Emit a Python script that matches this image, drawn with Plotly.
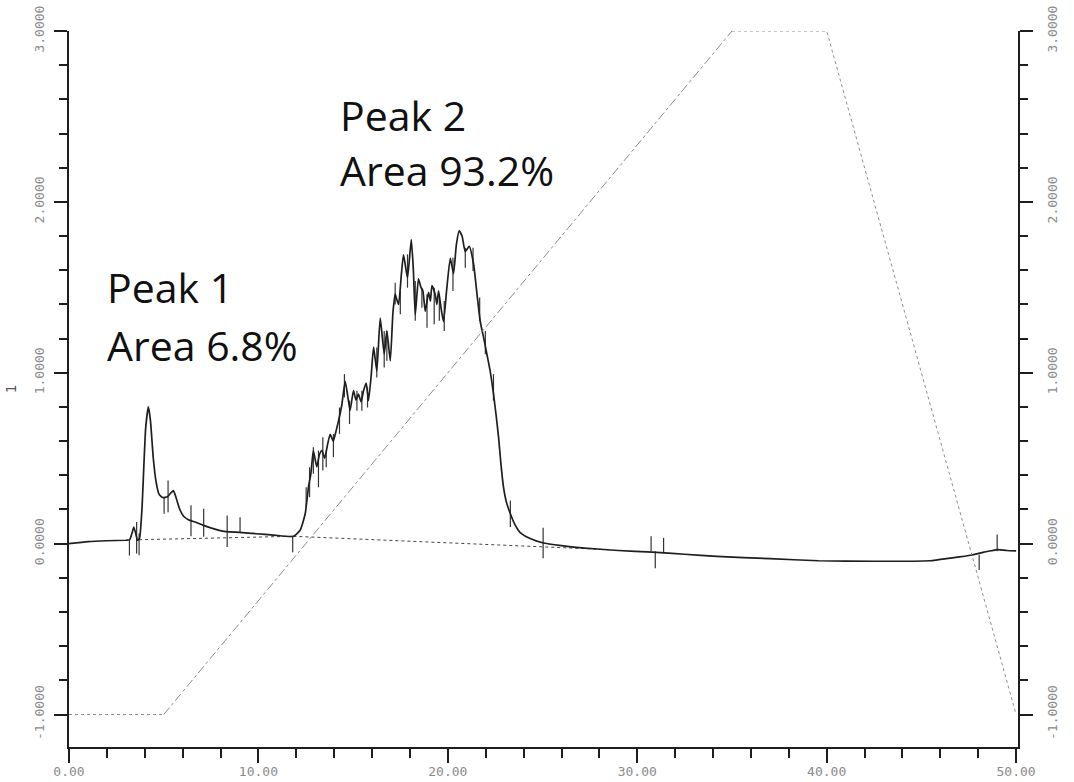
import plotly.graph_objects as go

# ---- chromatogram trace (time in min, detector response) ----
time_min = [0.0, 1.0, 2.0, 3.0, 3.2, 3.35, 3.42, 3.52, 3.62, 3.72, 3.85, 3.95, 4.05, 4.19, 4.3,
            4.45, 4.6, 4.75, 4.95, 5.2, 5.4, 5.51, 5.65, 5.85, 6.05, 6.3, 6.7, 7.1, 7.7, 8.3,
            9.0, 9.9, 10.8, 11.85, 12.2, 12.47, 12.64, 12.77, 12.9, 13.08, 13.22, 13.35, 13.5,
            13.65, 13.79, 13.95, 14.1, 14.23, 14.4, 14.58, 14.72, 14.84, 15.02, 15.15, 15.28,
            15.42, 15.55, 15.69, 15.81, 15.95, 16.08, 16.25, 16.43, 16.64, 16.78, 16.96, 17.1,
            17.22, 17.3, 17.4, 17.55, 17.66, 17.87, 18.07, 18.18, 18.28, 18.45, 18.58, 18.68,
            18.81, 18.98, 19.08, 19.16, 19.33, 19.42, 19.51, 19.64, 19.77, 19.95, 20.13, 20.3,
            20.45, 20.6, 20.75, 20.92, 21.13, 21.36, 21.55, 21.71, 21.9, 22.06, 22.25, 22.41,
            22.55, 22.68, 22.8, 22.94, 23.1, 23.3, 23.55, 23.82, 24.35, 25.0, 26.0, 27.07,
            29.0, 30.8, 32.5, 34.2, 37.0, 39.56, 42.5, 45.46, 46.5, 47.6, 48.3, 49.03, 49.5,
            50.0]
signal = [0.0, 0.012, 0.017, 0.02, 0.022, 0.07, 0.097, 0.06, 0.02, 0.03, 0.2, 0.45, 0.68, 0.80,
          0.72, 0.5, 0.36, 0.29, 0.27, 0.275, 0.30, 0.31, 0.27, 0.2, 0.16, 0.14, 0.125, 0.107,
          0.085, 0.07, 0.066, 0.058, 0.05, 0.043, 0.078, 0.175, 0.33, 0.41, 0.545, 0.45, 0.52,
          0.545, 0.50, 0.58, 0.64, 0.60, 0.66, 0.72, 0.81, 0.95, 0.86, 0.78, 0.895, 0.84,
          0.875, 0.83, 0.895, 0.94, 0.837, 0.98, 1.15, 1.01, 1.32, 1.11, 1.245, 1.07, 1.35,
          1.46, 1.43, 1.40, 1.58, 1.69, 1.556, 1.78, 1.6, 1.34, 1.55, 1.50, 1.48, 1.36, 1.47,
          1.42, 1.51, 1.46, 1.40, 1.48, 1.38, 1.30, 1.50, 1.67, 1.58, 1.75, 1.83, 1.80, 1.71,
          1.74, 1.635, 1.45, 1.30, 1.20, 1.11, 1.0, 0.876, 0.75, 0.62, 0.47, 0.33, 0.24,
          0.175, 0.11, 0.065, 0.03, 0.005, -0.012, -0.025, -0.04, -0.05, -0.062, -0.074,
          -0.088, -0.10, -0.103, -0.10, -0.085, -0.068, -0.05, -0.035, -0.04, -0.042]

# ---- integration baselines ----
base1_t = [3.7, 11.85]
base1_v = [0.023, 0.043]
base2_t = [11.85, 28.5]
base2_v = [0.043, -0.035]

# ---- integration event marks: time, upper value, lower value ----
mark_t = [3.19, 3.57, 3.70, 5.02, 5.23, 6.44, 7.11, 8.35, 9.03, 11.81,
          12.52, 12.70, 12.90, 13.17, 13.40, 13.58, 13.96, 14.28, 14.54, 14.81,
          15.20, 15.46, 15.76, 16.25, 16.64, 16.78, 17.22, 17.49, 17.87, 18.28,
          18.63, 18.90, 19.28, 19.55, 19.81, 20.27, 20.92, 21.33, 21.68, 21.98,
          22.41, 23.30, 25.03, 30.73, 30.95, 31.39, 48.05, 49.0]
mark_hi = [0.02, 0.126, 0.06, 0.272, 0.37, 0.224, 0.204, 0.165, 0.155, 0.04,
           0.33, 0.447, 0.564, 0.545, 0.622, 0.545, 0.642, 0.797, 0.992, 0.837,
           0.895, 0.895, 0.914, 1.148, 1.245, 1.245, 1.527, 1.479, 1.693, 1.537,
           1.498, 1.459, 1.498, 1.459, 1.42, 1.673, 1.731, 1.731, 1.44, 1.245,
           0.992, 0.253, 0.093, 0.044, -0.045, 0.034, -0.065, 0.054]
mark_lo = [-0.07, -0.058, -0.068, 0.175, 0.184, 0.043, 0.04, -0.02, 0.068, -0.05,
           0.214, 0.272, 0.409, 0.33, 0.428, 0.447, 0.506, 0.642, 0.856, 0.70,
           0.778, 0.778, 0.797, 0.973, 1.031, 1.07, 1.40, 1.343, 1.498, 1.304,
           1.381, 1.264, 1.284, 1.304, 1.245, 1.479, 1.615, 1.595, 1.304, 1.109,
           0.837, 0.097, -0.085, -0.045, -0.144, -0.055, -0.154, -0.045]

# ---- gradient program ----
grad_t = [0, 5, 35, 40, 50]
grad_v = [-1.0, -1.0, 3.0, 3.0, -1.0]

# ---- axis ticks / labels ----
x_ticks = [0, 10, 20, 30, 40, 50]
x_labels = ["0.00", "10.00", "20.00", "30.00", "40.00", "50.00"]
y_ticks = [-1, 0, 1, 2, 3]
y_labels = ["-1.0000", "0.0000", "1.0000", "2.0000", "3.0000"]

peak_notes = [("Peak 1", "Area 6.8%"), ("Peak 2", "Area 93.2%")]

INK = "#1e1e1e"
LABEL = "#8a8a8a"
MONO = "DejaVu Sans Mono"

fig = go.Figure()

# gradient (right axis): flat/falling parts dotted, ramp dash-dot
fig.add_trace(go.Scatter(x=grad_t[:2], y=grad_v[:2], yaxis="y2", mode="lines",
                         line=dict(color="#8c8c8c", width=1, dash="dot"),
                         hoverinfo="skip", showlegend=False, cliponaxis=False))
fig.add_trace(go.Scatter(x=grad_t[1:3], y=grad_v[1:3], yaxis="y2", mode="lines",
                         line=dict(color="#8c8c8c", width=1, dash="dashdot"),
                         hoverinfo="skip", showlegend=False, cliponaxis=False))
fig.add_trace(go.Scatter(x=grad_t[2:], y=grad_v[2:], yaxis="y2", mode="lines",
                         line=dict(color="#8c8c8c", width=1, dash="dot"),
                         hoverinfo="skip", showlegend=False, cliponaxis=False))

# baselines
for bt, bv in ((base1_t, base1_v), (base2_t, base2_v)):
    fig.add_trace(go.Scatter(x=bt, y=bv, mode="lines",
                             line=dict(color="#444444", width=1, dash="dot"),
                             hoverinfo="skip", showlegend=False))

# event marks as short vertical strokes
mx, my = [], []
for t, hi, lo in zip(mark_t, mark_hi, mark_lo):
    mx += [t, t, None]
    my += [hi, lo, None]
fig.add_trace(go.Scatter(x=mx, y=my, mode="lines",
                         line=dict(color="#333333", width=1.2),
                         hoverinfo="skip", showlegend=False))

# chromatogram
fig.add_trace(go.Scatter(x=time_min, y=signal, mode="lines",
                         line=dict(color=INK, width=1.7, shape="spline", smoothing=0.5),
                         showlegend=False))

yrange = [-1.19, 3.0]
common_y = dict(range=yrange, showline=True, linecolor=INK, linewidth=2,
                ticks="outside", ticklen=13, tickwidth=2, tickcolor=INK,
                tickvals=y_ticks, ticktext=y_labels, tickangle=-90,
                tickfont=dict(family=MONO, size=13, color=LABEL),
                minor=dict(ticks="outside", dtick=0.2, tick0=0, ticklen=8,
                           tickwidth=2, tickcolor=INK),
                showgrid=False, zeroline=False, fixedrange=True, automargin=False)

fig.update_layout(
    width=1074, height=782,
    margin=dict(l=69, r=56, t=31, b=35, autoexpand=False),
    paper_bgcolor="white", plot_bgcolor="white",
    xaxis=dict(range=[0, 50.1], showline=True, linecolor=INK, linewidth=2,
               ticks="outside", ticklen=14, tickwidth=2, tickcolor=INK,
               tickvals=x_ticks, ticktext=x_labels, ticklabelstandoff=-3,
               tickfont=dict(family=MONO, size=13, color=LABEL),
               minor=dict(ticks="outside", dtick=2, tick0=0, ticklen=9,
                          tickwidth=2, tickcolor=INK),
               showgrid=False, zeroline=False, automargin=False),
    yaxis=dict(**common_y, side="left", ticklabelstandoff=5,
               title=dict(text="1", font=dict(family=MONO, size=14, color="#555555"),
                          standoff=12)),
    yaxis2=dict(**common_y, side="right", overlaying="y", ticklabelstandoff=8),
)

# peak annotations
note_pos = [(1.9, 1.50, 1.163), (14.19, 2.508, 2.187)]
for (title, area), (ax, y1, y2) in zip(peak_notes, note_pos):
    for txt, yy in ((title, y1), (area, y2)):
        fig.add_annotation(x=ax, y=yy, xref="x", yref="y", text=txt, showarrow=False,
                           xanchor="left", yanchor="middle",
                           font=dict(family="Open Sans", size=41, color="#111111"))

fig.write_html("out.html")
